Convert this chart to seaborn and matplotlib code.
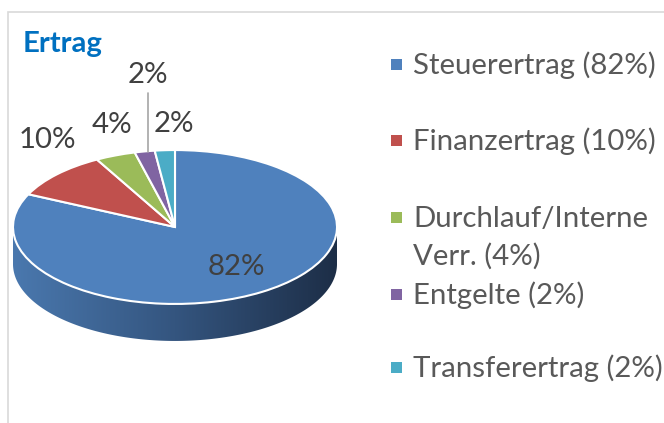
import numpy as np
import matplotlib
matplotlib.use("Agg")
import matplotlib.pyplot as plt
from matplotlib.patches import Polygon, Rectangle
from matplotlib.colors import LinearSegmentedColormap
import seaborn as sns

# data
categories = ["Steuerertrag", "Finanzertrag", "Durchlauf/Interne\nVerr.", "Entgelte", "Transferertrag"]
shares = [82, 10, 4, 2, 2]
slice_colors = ["#4F81BD", "#C0504D", "#9BBB59", "#8064A2", "#4BACC6"]

sns.set_theme(style="white")
plt.rcParams['font.family'] = ['Lato', 'DejaVu Sans']

W, H = 664, 423
fig = plt.figure(figsize=(W / 100, H / 100), dpi=100)
ax = fig.add_axes([0, 0, 1, 1])

# squash the y axis so the pie looks tilted
squash = 0.475


def to_data(x, y):
    return x, (H - y) / squash


cx, cy = to_data(175, 227)
r = 162
depth = 37 / squash

# side of the "3d" pie (only the big blue slice is in front)
theta = np.linspace(np.pi, 2 * np.pi, 300)
top = np.column_stack([cx + r * np.cos(theta), cy + r * np.sin(theta)])
bottom = top[::-1] - [0, depth]
band = Polygon(np.vstack([top, bottom]), closed=True, facecolor='none', edgecolor='none')
ax.add_patch(band)
side_cmap = LinearSegmentedColormap.from_list('side', ['#4a78ae', '#34557f', '#1d2e47'])
grad = np.linspace(0, 1, 256).reshape(1, -1)
im = ax.imshow(grad, extent=[cx - r, cx + r, cy - r - depth, cy], aspect='auto',
               cmap=side_cmap, zorder=1)
im.set_clip_path(band)

wedges, _ = ax.pie(shares, colors=slice_colors, startangle=90, counterclock=False,
                   center=(cx, cy), radius=r,
                   wedgeprops=dict(edgecolor='white', linewidth=1.5, zorder=2))

ax.set_aspect('auto')
ax.set_xlim(0, W)
ax.set_ylim(0, H / squash)
ax.axis('off')

FS = 21.2

# data labels
label_pos = [(236, 275), (47, 148), (112, 133), (148, 83), (174, 132)]
for share, (lx, ly) in zip(shares, label_pos):
    ax.text(*to_data(lx, ly), f"{share}%", ha='center', va='baseline',
            fontsize=FS, color='#404040', zorder=5)
# leader line for Entgelte
ax.plot(*zip(to_data(148, 93), to_data(148, 152)), color='#a6a6a6', lw=1.2, zorder=3)

# title
fig.text(23 / W, 1 - 52 / H, "Ertrag", fontsize=FS, fontweight='bold',
         color='#0070C0', va='baseline', ha='left')

# legend
legend_base = [74, 150, 227, 304, 377]
line_step = 38
for name, share, col, b in zip(categories, shares, slice_colors, legend_base):
    lines = f"{name} ({share}%)".split("\n")
    for i, line in enumerate(lines):
        fig.text(413 / W, 1 - (b + i * line_step) / H, line, fontsize=FS,
                 color='#595959', va='baseline', ha='left')
    fig.add_artist(Rectangle((391 / W, 1 - (b - 4) / H), 11 / W, 11 / H,
                             transform=fig.transFigure, facecolor=col, edgecolor='none'))

# outer chart frame (cut off at right/bottom)
fig.add_artist(Rectangle((8 / W, -0.2), 1.2, 1 - 12 / H + 0.2, transform=fig.transFigure,
                         facecolor='none', edgecolor='#d9d9d9', lw=1.2))

fig.savefig("out.png", dpi=100)
